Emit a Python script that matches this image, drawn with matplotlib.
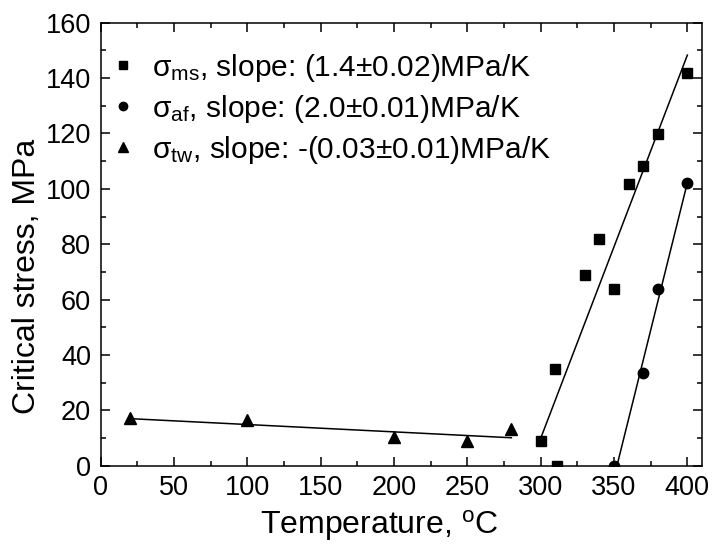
import matplotlib
matplotlib.use("Agg")
import matplotlib.pyplot as plt
from matplotlib.ticker import MultipleLocator

plt.rcParams['font.family'] = ['Liberation Sans', 'DejaVu Sans']
plt.rcParams['mathtext.fontset'] = 'custom'
plt.rcParams['mathtext.rm'] = 'Liberation Sans'
plt.rcParams['mathtext.default'] = 'regular'

# sigma_ms data (squares)
ms_T = [300, 310, 311, 330, 340, 350, 360, 370, 380, 400]
ms_S = [9.0, 35.0, 0.0, 69.0, 81.8, 63.9, 101.8, 108.2, 119.9, 141.9]
# sigma_af data (circles)
af_T = [350, 370, 380, 400]
af_S = [0.0, 33.5, 63.9, 102.2]
# sigma_tw data (triangles)
tw_T = [20, 100, 200, 250, 280]
tw_S = [17.2, 16.4, 10.3, 8.8, 13.4]

# fitted lines (endpoints)
ms_fit_T = [300, 400]
ms_fit_S = [9.9, 148.3]
af_fit_T = [352, 400]
af_fit_S = [0.0, 102.2]
tw_fit_T = [20, 280]
tw_fit_S = [17.0, 10.1]

labels = [r"σ$_{ms}$, slope: (1.4±0.02)MPa/K",
          r"σ$_{af}$, slope: (2.0±0.01)MPa/K",
          r"σ$_{tw}$, slope: -(0.03±0.01)MPa/K"]

fig = plt.figure(figsize=(7.12, 5.44), dpi=100)
ax = fig.add_axes([0.1414, 0.1439, 0.986 - 0.1414, 0.9583 - 0.1439])

h1, = ax.plot(ms_T, ms_S, 's', color='black', ms=7.2, ls='none', label=labels[0])
h2, = ax.plot(af_T, af_S, 'o', color='black', ms=7.5, ls='none', label=labels[1])
h3, = ax.plot(tw_T, tw_S, '^', color='black', ms=8.5, ls='none', label=labels[2])
ax.plot(ms_fit_T, ms_fit_S, '-', color='black', lw=1.1)
ax.plot(af_fit_T, af_fit_S, '-', color='black', lw=1.1)
ax.plot(tw_fit_T, tw_fit_S, '-', color='black', lw=1.1)

ax.set_xlim(0, 410)
ax.set_ylim(0, 160)
ax.xaxis.set_major_locator(MultipleLocator(50))
ax.xaxis.set_minor_locator(MultipleLocator(25))
ax.yaxis.set_major_locator(MultipleLocator(20))
ax.yaxis.set_minor_locator(MultipleLocator(10))
ax.tick_params(which='both', direction='in', top=True, right=True, width=1.1,
               labelsize=19.5, pad=7)
ax.tick_params(which='major', length=6.5)
ax.tick_params(which='minor', length=3.5)
for s in ax.spines.values():
    s.set_linewidth(1.1)

ax.set_xlabel(r"Temperature, $^{o}$C", fontsize=23)
ax.set_ylabel("Critical stress, MPa", fontsize=23)
ax.xaxis.set_label_coords(0.463, -0.095)
ax.yaxis.set_label_coords(-0.097, 0.427)

leg = ax.legend(handles=[h1, h2, h3], loc='upper left', bbox_to_anchor=(-0.012, 0.975),
                frameon=False, fontsize=21.5, handlelength=0.8, handletextpad=0.55,
                labelspacing=0.3, borderaxespad=0.2, markerscale=0.8)

fig.savefig("out.png", dpi=100)
